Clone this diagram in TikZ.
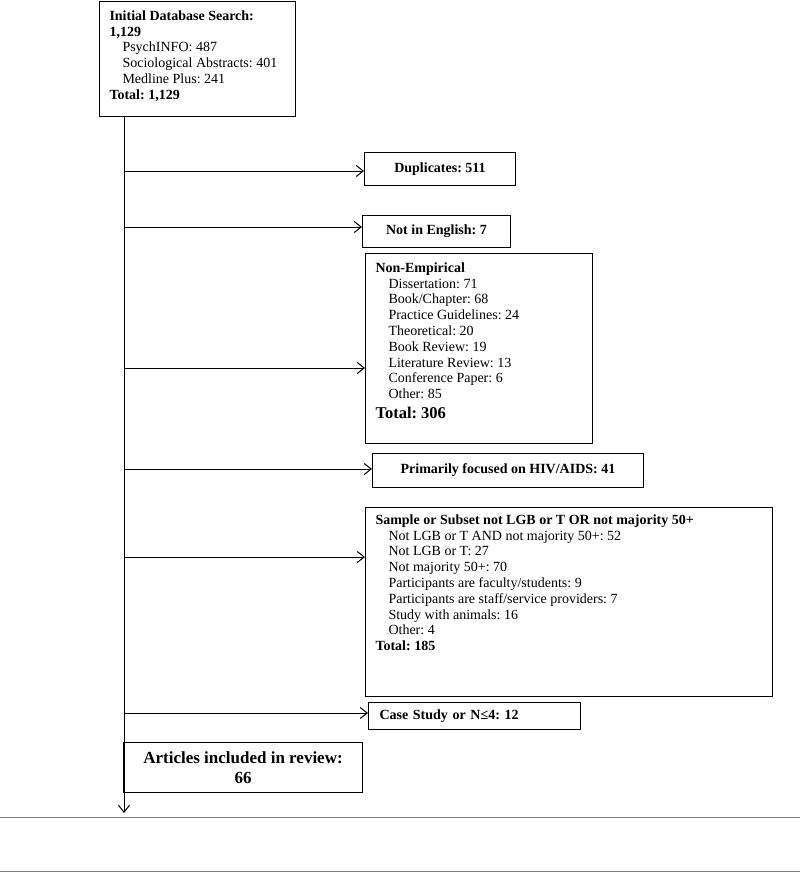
\documentclass[tikz,border=0pt]{standalone}
\usepackage{fontspec}
\setmainfont{Liberation Serif}
\usetikzlibrary{arrows.meta}
\frenchspacing

\tikzset{
  box/.style={draw, line width=1pt, anchor=north west, inner sep=0pt},
  boxtext/.style={anchor=north west, align=left, inner xsep=10pt, inner ysep=9pt,
    font=\fontsize{14}{15.8}\selectfont},
  onebox/.style={draw, line width=1pt, anchor=north west, inner sep=0pt,
    font=\fontsize{14}{15.8}\selectfont\bfseries},
  rule/.style={draw=gray, line width=1pt}
}
\newcommand{\ind}{\hspace*{13pt}}

\begin{document}
\begin{tikzpicture}[x=1pt, y=-1pt, >={Straight Barb[length=7pt, width=11pt]}, line width=1pt]
\useasboundingbox (0,0) rectangle (800,872);

% boxes
\node [box, minimum width=196pt, minimum height=115pt] (init) at (99,1) {};
\node [boxtext] (inittext) at (init.north west) {\textbf{Initial Database Search:}\\ \textbf{1,129}\\
  \ind PsychINFO: 487\\ \ind Sociological Abstracts: 401\\ \ind Medline Plus: 241\\ \textbf{Total: 1,129}};
\node [onebox, minimum width=151pt, minimum height=33pt] (dup) at (364,152) {Duplicates: 511};
\node [onebox, minimum width=148pt, minimum height=32pt] (noteng) at (362,215) {Not in English: 7};
\node [box, minimum width=227pt, minimum height=190pt] (nonemp) at (365,253) {};
\node [boxtext] (nonemptext) at (nonemp.north west) {\textbf{Non-Empirical}\\ \ind Dissertation: 71\\
  \ind Book/Chapter: 68\\ \ind Practice Guidelines: 24\\ \ind Theoretical: 20\\ \ind Book Review: 19\\
  \ind Literature Review: 13\\ \ind Conference Paper: 6\\ \ind Other: 85\\[4pt]
  {\fontsize{16.5}{19}\selectfont\bfseries Total: 306}};
\node [onebox, minimum width=271pt, minimum height=34pt] (hiv) at (372,453) {Primarily focused on HIV/AIDS: 41};
\node [box, minimum width=407pt, minimum height=189pt] (sample) at (365,507) {};
\node [boxtext, inner ysep=7pt] (sampletext) at (sample.north west) {\textbf{Sample or Subset not LGB or T OR not majority 50+}\\
  \ind Not LGB or T AND not majority 50+: 52\\ \ind Not LGB or T: 27\\ \ind Not majority 50+: 70\\
  \ind Participants are faculty/students: 9\\ \ind Participants are staff/service providers: 7\\
  \ind Study with animals: 16\\ \ind Other: 4\\ \textbf{Total: 185}};
\node [onebox, align=left, text width=190pt, inner xsep=11pt, minimum height=27pt] (casestudy) at (368,702) {Case Study or N≤4: 12};
\node [onebox, align=center, minimum width=239pt, minimum height=50pt,
  font=\fontsize{17}{20}\selectfont\bfseries] (articles) at (123,742) {Articles included in review:\\ 66};

% spine and arrows
\coordinate (spinetop) at (124,116);
\coordinate (spineend) at (124,813);
\draw [->] (spinetop) -- (spineend);
\coordinate (s1) at (124,171);
\coordinate (s2) at (124,227);
\coordinate (s3) at (124,368);
\coordinate (s4) at (124,469);
\coordinate (s5) at (124,557);
\coordinate (s6) at (124,713);
\draw [->] (s1) -- (s1 -| dup.west);
\draw [->] (s2) -- (s2 -| noteng.west);
\draw [->] (s3) -- (s3 -| nonemp.west);
\draw [->] (s4) -- (s4 -| hiv.west);
\draw [->] (s5) -- (s5 -| sample.west);
\draw [->] (s6) -- (s6 -| casestudy.west);

% page rules
\draw [rule] (0,817) -- (800,817);
\draw [rule] (0,871) -- (800,871);
\end{tikzpicture}
\end{document}
